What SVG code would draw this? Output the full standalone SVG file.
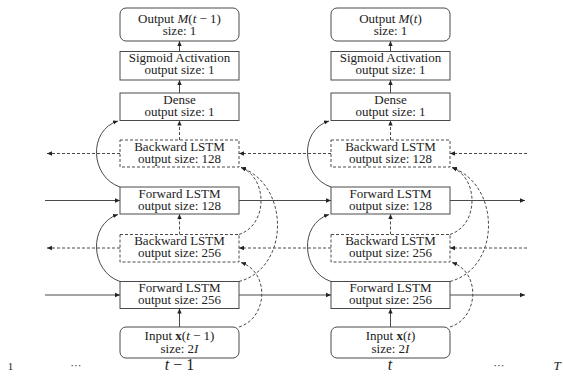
<svg xmlns="http://www.w3.org/2000/svg" width="563" height="379" viewBox="0 0 563 379">
  <style>
    .box { fill: #fff; stroke: #4a4a4a; stroke-width: 1; }
    .dbox { fill: #fff; stroke: #4a4a4a; stroke-width: 1; stroke-dasharray: 3 2; }
    .lbl { font-family: "Liberation Serif", "DejaVu Serif", serif; font-size: 13px; fill: #222; text-anchor: middle; }
    .ax { font-family: "Liberation Serif", "DejaVu Serif", serif; fill: #222; text-anchor: middle; }
    .dots { font-family: "DejaVu Sans", sans-serif; font-size: 11px; fill: #444; text-anchor: middle; }
    .it { font-style: italic; }
    .bf { font-weight: bold; }
    .solid { fill: none; stroke: #4a4a4a; stroke-width: 1; marker-end: url(#arr); }
    .dash { fill: none; stroke: #4a4a4a; stroke-width: 1; stroke-dasharray: 3 2; marker-end: url(#arr); }
  </style>
  <defs>
    <marker id="arr" viewBox="0 -3 6 6" refX="5" refY="0" markerWidth="6" markerHeight="6" markerUnits="userSpaceOnUse" orient="auto">
      <path d="M0,-2.2 L5,0 L0,2.2 Z" fill="#222"/>
    </marker>
  </defs>

  <!-- connectors -->
  <g id="connectors">
    <!-- vertical, column t-1 -->
    <path class="solid" d="M179.5,51.5 V41"/>
    <path class="solid" d="M179.5,93 V80"/>
    <path class="dash" d="M179.5,140 V120.5"/>
    <path class="dash" d="M179.5,234.5 V214"/>
    <path class="solid" d="M179.5,327 V308.5"/>
    <!-- vertical, column t -->
    <path class="solid" d="M390.5,51.5 V41"/>
    <path class="solid" d="M390.5,93 V80"/>
    <path class="dash" d="M390.5,140 V120.5"/>
    <path class="dash" d="M390.5,234.5 V214"/>
    <path class="solid" d="M390.5,327 V308.5"/>

    <!-- backward 128 row -->
    <path class="dash" d="M120,153.5 H47"/>
    <path class="dash" d="M331,153.5 H239"/>
    <path class="dash" d="M527,153.5 H450"/>
    <!-- forward 128 row -->
    <path class="solid" d="M45,200.5 H120"/>
    <path class="solid" d="M239,200.5 H331"/>
    <path class="solid" d="M450,200.5 H525"/>
    <!-- backward 256 row -->
    <path class="dash" d="M120,248 H47"/>
    <path class="dash" d="M331,248 H239"/>
    <path class="dash" d="M527,248 H450"/>
    <!-- forward 256 row -->
    <path class="solid" d="M45,295 H120"/>
    <path class="solid" d="M239,295 H331"/>
    <path class="solid" d="M450,295 H525"/>

    <!-- skip curves, column t-1 -->
    <path class="solid" d="M120,187 C90,177 88,130 118,121"/>
    <path class="solid" d="M120,281.5 C90,271.5 88,224 118,214.5"/>
    <path class="dash" d="M239,327 C268,318 270,272 241,262.5"/>
    <path class="dash" d="M239,281.5 C290,268 290,185 241,167.5"/>
    <path class="dash" d="M239,234.5 C268,225 268,178 241,167.5"/>
    <!-- skip curves, column t -->
    <path class="solid" d="M331,187 C301,177 299,130 329,121"/>
    <path class="solid" d="M331,281.5 C301,271.5 299,224 329,214.5"/>
    <path class="dash" d="M450,327 C479,318 481,272 452,262.5"/>
    <path class="dash" d="M450,281.5 C501,268 501,185 452,167.5"/>
    <path class="dash" d="M450,234.5 C479,225 479,178 452,167.5"/>
  </g>

  <!-- column t-1 -->
  <g id="out-tm1">
    <rect class="box" x="120" y="8" width="119" height="33" rx="6"/>
    <text class="lbl"><tspan x="179.5" y="22.5">Output <tspan class="it">M</tspan>(<tspan class="it">t</tspan> − 1)</tspan><tspan x="179.5" y="34.5">size: 1</tspan></text>
  </g>
  <g id="sig-tm1">
    <rect class="box" x="120" y="51.5" width="119" height="28.5"/>
    <text class="lbl"><tspan x="179.5" y="62">Sigmoid Activation</tspan><tspan x="179.5" y="74">output size: 1</tspan></text>
  </g>
  <g id="dense-tm1">
    <rect class="box" x="120" y="93" width="119" height="27.5"/>
    <text class="lbl"><tspan x="179.5" y="103.5">Dense</tspan><tspan x="179.5" y="115.5">output size: 1</tspan></text>
  </g>
  <g id="bwd128-tm1">
    <rect class="dbox" x="120" y="140" width="119" height="27"/>
    <text class="lbl"><tspan x="179.5" y="150.5">Backward LSTM</tspan><tspan x="179.5" y="162.5">output size: 128</tspan></text>
  </g>
  <g id="fwd128-tm1">
    <rect class="box" x="120" y="187" width="119" height="27"/>
    <text class="lbl"><tspan x="179.5" y="197.5">Forward LSTM</tspan><tspan x="179.5" y="209.5">output size: 128</tspan></text>
  </g>
  <g id="bwd256-tm1">
    <rect class="dbox" x="120" y="234.5" width="119" height="27.5"/>
    <text class="lbl"><tspan x="179.5" y="245">Backward LSTM</tspan><tspan x="179.5" y="257">output size: 256</tspan></text>
  </g>
  <g id="fwd256-tm1">
    <rect class="box" x="120" y="281.5" width="119" height="27"/>
    <text class="lbl"><tspan x="179.5" y="292">Forward LSTM</tspan><tspan x="179.5" y="304">output size: 256</tspan></text>
  </g>
  <g id="in-tm1">
    <rect class="box" x="120" y="327" width="119" height="31" rx="6"/>
    <text class="lbl"><tspan x="179.5" y="340">Input <tspan class="bf">x</tspan>(<tspan class="it">t</tspan> − 1)</tspan><tspan x="179.5" y="352.5">size: 2<tspan class="it">I</tspan></tspan></text>
  </g>

  <!-- column t -->
  <g id="out-t">
    <rect class="box" x="331" y="8" width="119" height="33" rx="6"/>
    <text class="lbl"><tspan x="390.5" y="22.5">Output <tspan class="it">M</tspan>(<tspan class="it">t</tspan>)</tspan><tspan x="390.5" y="34.5">size: 1</tspan></text>
  </g>
  <g id="sig-t">
    <rect class="box" x="331" y="51.5" width="119" height="28.5"/>
    <text class="lbl"><tspan x="390.5" y="62">Sigmoid Activation</tspan><tspan x="390.5" y="74">output size: 1</tspan></text>
  </g>
  <g id="dense-t">
    <rect class="box" x="331" y="93" width="119" height="27.5"/>
    <text class="lbl"><tspan x="390.5" y="103.5">Dense</tspan><tspan x="390.5" y="115.5">output size: 1</tspan></text>
  </g>
  <g id="bwd128-t">
    <rect class="dbox" x="331" y="140" width="119" height="27"/>
    <text class="lbl"><tspan x="390.5" y="150.5">Backward LSTM</tspan><tspan x="390.5" y="162.5">output size: 128</tspan></text>
  </g>
  <g id="fwd128-t">
    <rect class="box" x="331" y="187" width="119" height="27"/>
    <text class="lbl"><tspan x="390.5" y="197.5">Forward LSTM</tspan><tspan x="390.5" y="209.5">output size: 128</tspan></text>
  </g>
  <g id="bwd256-t">
    <rect class="dbox" x="331" y="234.5" width="119" height="27.5"/>
    <text class="lbl"><tspan x="390.5" y="245">Backward LSTM</tspan><tspan x="390.5" y="257">output size: 256</tspan></text>
  </g>
  <g id="fwd256-t">
    <rect class="box" x="331" y="281.5" width="119" height="27"/>
    <text class="lbl"><tspan x="390.5" y="292">Forward LSTM</tspan><tspan x="390.5" y="304">output size: 256</tspan></text>
  </g>
  <g id="in-t">
    <rect class="box" x="331" y="327" width="119" height="31" rx="6"/>
    <text class="lbl"><tspan x="390.5" y="340">Input <tspan class="bf">x</tspan>(<tspan class="it">t</tspan>)</tspan><tspan x="390.5" y="352.5">size: 2<tspan class="it">I</tspan></tspan></text>
  </g>

  <!-- time axis -->
  <g id="time-axis">
    <text class="ax" x="10.5" y="370" font-size="11">1</text>
    <text class="dots" x="76" y="369">⋯</text>
    <text class="ax" x="179.5" y="370" font-size="16"><tspan class="it">t</tspan> − 1</text>
    <text class="ax it" x="390" y="370" font-size="16">t</text>
    <text class="dots" x="499" y="369">⋯</text>
    <text class="ax it" x="557" y="370" font-size="13">T</text>
  </g>
</svg>
